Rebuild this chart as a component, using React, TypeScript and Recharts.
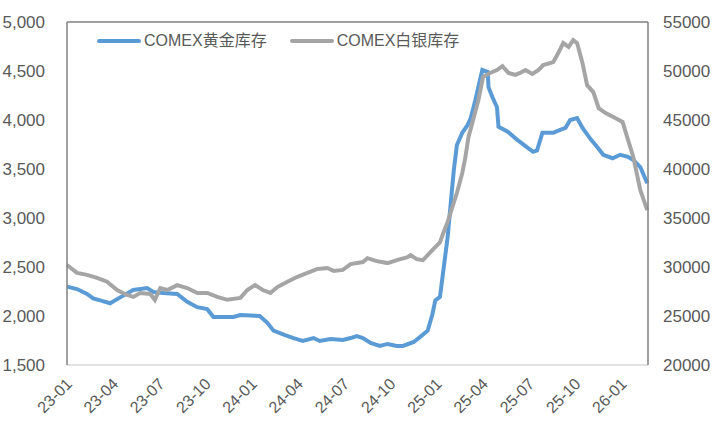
import { LineChart, Line, XAxis, YAxis, ReferenceLine } from 'recharts';

// 月份偏移：0 = 2023-01
const goldMonths = [
  0, 0.65, 1.3, 1.7, 2.15, 2.8, 3.45, 4.3, 5.2, 5.6, 6.25, 7.15, 7.8, 8.45, 9.1, 9.5, 10.8, 11.25,
  12.5, 13.0, 13.4, 14.15, 14.7, 15.3, 16.0, 16.4, 17.1, 17.9, 18.4, 18.8, 19.2, 19.7, 20.3, 20.8,
  21.4, 21.8, 22.5, 22.9, 23.4, 23.7, 23.9, 24.2, 24.4, 24.7, 24.9, 25.1, 25.3, 25.65, 26.0, 26.2,
  26.5, 26.8, 26.95, 27.3, 27.35, 27.6, 27.9, 28.0, 28.6, 29.2, 29.9, 30.25, 30.5, 30.85, 31.55,
  32.0, 32.35, 32.65, 33.1, 33.45, 34.0, 34.4, 34.8, 35.4, 35.9, 36.4, 36.75, 37.2, 37.65,
];
const goldStock = [
  2300, 2275, 2225, 2180, 2160, 2130, 2190, 2265, 2285, 2245, 2235, 2225, 2145, 2090, 2070, 1990, 1990, 2010,
  2000, 1930, 1850, 1805, 1775, 1745, 1775, 1745, 1765, 1755, 1775, 1795, 1775, 1725, 1695, 1715,
  1695, 1695, 1735, 1785, 1850, 2010, 2160, 2195, 2440, 2805, 3150, 3490, 3745, 3870, 3950, 4020,
  4205, 4410, 4510, 4490, 4335, 4235, 4130, 3930, 3880, 3800, 3715, 3675, 3690, 3870, 3870,
  3900, 3920, 4000, 4020, 3920, 3800, 3725, 3645, 3610, 3645, 3625, 3590, 3520, 3355,
];

const silverMonths = [
  0, 0.65, 1.3, 1.95, 2.6, 3.25, 3.9, 4.3, 4.75, 5.4, 5.7, 6.05, 6.5, 7.15, 7.8, 8.45, 9.1, 9.75,
  10.4, 11.25, 11.7, 12.2, 12.7, 13.2, 13.65, 14.3, 14.95, 15.6, 16.25, 16.9, 17.3, 17.9, 18.4,
  19.2, 19.5, 20.1, 20.8, 21.4, 22.1, 22.3, 22.7, 23.1, 23.75, 24.2, 24.4, 24.7, 24.9, 25.3, 25.65,
  25.85, 26.05, 26.35, 26.7, 27.0, 27.45, 27.9, 28.25, 28.65, 29.1, 29.4, 29.75, 30.2, 30.6, 30.9,
  31.55, 31.8, 32.2, 32.55, 32.85, 33.1, 33.45, 33.75, 34.15, 34.5, 34.95, 35.45, 36.05, 36.35,
  36.75, 37.2, 37.65,
];
const silverStock = [
  30200, 29400, 29200, 28900, 28500, 27650, 27150, 26950, 27350, 27250, 26650, 27850, 27650, 28150, 27850, 27350, 27350, 26950,
  26650, 26850, 27650, 28150, 27650, 27350, 27950, 28500, 29000, 29400, 29800, 29900, 29600, 29700, 30300,
  30500, 30900, 30600, 30400, 30700, 31000, 31200, 30800, 30700, 31800, 32500, 33400, 34600, 35600, 37550, 39600,
  41200, 43250, 45000, 47050, 49400, 49800, 50100, 50500, 49800, 49600, 49800, 50100, 49700, 50100, 50600,
  50900, 51600, 52850, 52450, 53150, 52850, 50800, 48550, 47850, 46200, 45700, 45300, 44800, 43250,
  41200, 37850, 35800,
];

const xTicks = [0, 3, 6, 9, 12, 15, 18, 21, 24, 27, 30, 33, 36];
const xTickLabels = ['23-01', '23-04', '23-07', '23-10', '24-01', '24-04', '24-07', '24-10', '25-01', '25-04', '25-07', '25-10', '26-01'];
const leftTicks = [1500, 2000, 2500, 3000, 3500, 4000, 4500, 5000];
const rightTicks = [20000, 25000, 30000, 35000, 40000, 45000, 50000, 55000];

const goldName = 'COMEX黄金库存';
const silverName = 'COMEX白银库存';

const goldData = goldMonths.map((m, i) => ({ m, v: goldStock[i] }));
const silverData = silverMonths.map((m, i) => ({ m, v: silverStock[i] }));

const BLUE = '#5B9BD5';
const GRAY = '#A5A5A5';
const TEXT = '#595959';
const FONT = '"Liberation Sans", Arial, "Noto Sans CJK SC", sans-serif';

function XTick({ x, y, payload }: any) {
  const label = xTickLabels[xTicks.indexOf(payload.value)];
  const tx = x + 6;
  const ty = y + 12;
  return (
    <text x={tx} y={ty} textAnchor="end" fill={TEXT} fontSize={16} fontFamily={FONT}
      transform={`rotate(-45, ${tx}, ${ty})`}>
      {label}
    </text>
  );
}

// 图例直接叠在图上，不占用绘图区
function ChartLegend() {
  const items = [
    { name: goldName, color: BLUE },
    { name: silverName, color: GRAY },
  ];
  return (
    <div style={{
      position: 'absolute', left: 97, top: 31, display: 'flex', alignItems: 'center',
      fontFamily: FONT, fontSize: 16, color: TEXT, whiteSpace: 'nowrap', lineHeight: '20px',
    }}>
      {items.map((it, i) => (
        <div key={it.name} style={{ display: 'flex', alignItems: 'center', marginLeft: i ? 23 : 0 }}>
          <span style={{ display: 'inline-block', width: 44, height: 4, borderRadius: 2, background: it.color, marginRight: 3 }} />
          <span>{it.name}</span>
        </div>
      ))}
    </div>
  );
}

export default function App() {
  return (
    <div style={{ position: 'absolute', left: 0, top: 0, width: 716, height: 437, background: '#fff' }}>
      <LineChart width={716} height={437} margin={{ top: 22, right: 0, bottom: 0, left: 0 }}>
        <XAxis
          xAxisId="x"
          dataKey="m"
          type="number"
          domain={[0, 37.7]}
          ticks={xTicks}
          interval={0}
          tick={<XTick />}
          tickLine={false}
          axisLine={{ stroke: '#D9D9D9', strokeWidth: 1.5 }}
          height={72}
          allowDuplicatedCategory={false}
        />
        <YAxis
          yAxisId="left"
          domain={[1500, 5000]}
          ticks={leftTicks}
          tickFormatter={(v) => v.toLocaleString('en-US')}
          tick={{ fill: TEXT, fontSize: 17, fontFamily: FONT }}
          tickLine={false}
          tickSize={0}
          tickMargin={22}
          axisLine={{ stroke: '#808080', strokeWidth: 1.5 }}
          width={67}
        />
        <YAxis
          yAxisId="right"
          orientation="right"
          domain={[20000, 55000]}
          ticks={rightTicks}
          tick={{ fill: TEXT, fontSize: 17, fontFamily: FONT }}
          tickLine={false}
          tickSize={0}
          tickMargin={15}
          axisLine={{ stroke: '#808080', strokeWidth: 1.5 }}
          width={68}
        />
        <ReferenceLine xAxisId="x" yAxisId="left" y={5000} stroke="#808080" strokeWidth={1.5} />
        <Line
          xAxisId="x"
          yAxisId="left"
          data={goldData}
          dataKey="v"
          name={goldName}
          type="linear"
          stroke={BLUE}
          strokeWidth={4}
          dot={false}
          isAnimationActive={false}
        />
        <Line
          xAxisId="x"
          yAxisId="right"
          data={silverData}
          dataKey="v"
          name={silverName}
          type="linear"
          stroke={GRAY}
          strokeWidth={4}
          dot={false}
          isAnimationActive={false}
        />
      </LineChart>
      <ChartLegend />
    </div>
  );
}
